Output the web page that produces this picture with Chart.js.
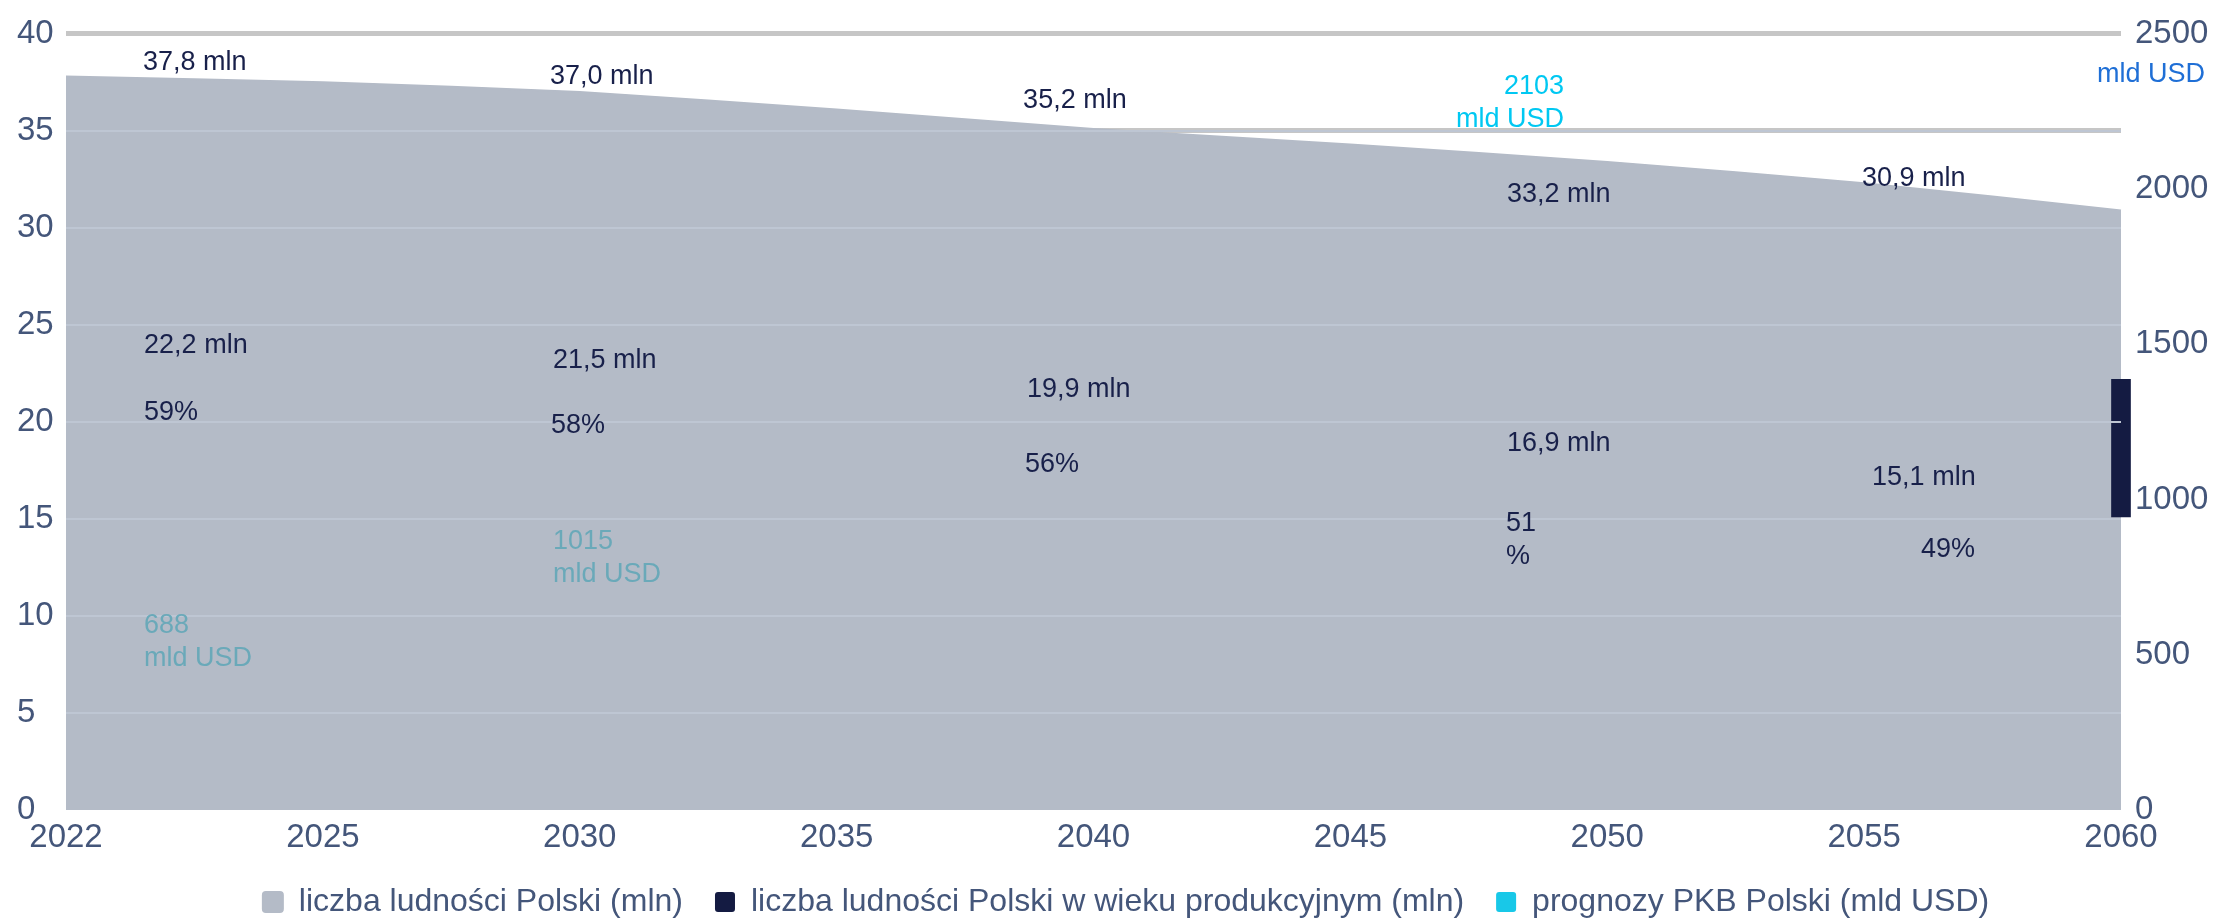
<!DOCTYPE html>
<html><head><meta charset="utf-8">
<script src="https://cdn.jsdelivr.net/npm/chart.js@4/dist/chart.umd.min.js"></script>
<style>html,body{margin:0;padding:0;background:#fff}#wrap{width:2213px;height:921px;position:relative}</style>
</head><body><div id="wrap"><canvas id="c"></canvas></div>
<script>
// ---- data ----
const years = ['2022','2025','2030','2035','2040','2045','2050','2055','2060'];
const population = [37.8, 37.5, 37.0, 36.1, 35.1, 34.3, 33.4, 32.3, 30.9];
const milestoneYears = ['2022','2030','2040','2050','2060'];
const populationMilestones = [37.8, 37.0, 35.2, 33.2, 30.9];
const workingAge = [22.2, 21.5, 19.9, 16.9, 15.1];
const workingShare = [59, 58, 56, 51, 49];
const gdpYears = ['2022','2030','2050'];
const gdp = [688, 1015, 2103];
const leftTicks = [0, 5, 10, 15, 20, 25, 30, 35, 40];
const rightTicks = [0, 500, 1000, 1500, 2000, 2500];
const seriesNames = ['liczba ludności Polski (mln)', 'liczba ludności Polski w wieku produkcyjnym (mln)', 'prognozy PKB Polski (mld USD)'];
const gdpUnit = 'mld USD';

// ---- label anchors (x = category index, y = left-axis value) ----
const popPos = [[0.30,38.51],[1.884,37.80],[3.726,36.57],[5.610,31.70],[6.992,32.52]];
const workPos = [[0.304,23.92],[1.896,23.15],[3.741,21.66],[5.610,18.90],[7.031,17.11]];
const sharePos = [[0.304,20.49],[1.888,19.82],[3.733,17.82],[5.606,14.75],[7.221,13.42]];
const shareBreak = [false,false,false,true,false];
const gdpPos = [[0.304,9.53,'left','#6aa9b9'],[1.896,13.83,'left','#6aa9b9'],[5.832,37.29,'right','#00c8f2']];

const FONT = '"Liberation Sans", Arial, sans-serif';
const TICK = '#44567a';
const NAVY = '#18204a';
const fmt = v => v.toFixed(1).replace('.', ',') + ' mln';

const annot = {
  id: 'annot',
  beforeDraw(chart) {
    const lg = chart.legend;
    if (lg && !lg._shifted) { lg.left += 11; lg.right += 11; lg._shifted = true; }
  },
  afterDraw(chart) {
    const {ctx, scales: {x, y, y1}} = chart;
    ctx.save();
    ctx.font = '27px ' + FONT;
    ctx.textBaseline = 'middle';
    const LH = 33;
    const put = (lines, pos, color, align) => {
      const px = x.getPixelForValue(pos[0]);
      const py = y.getPixelForValue(pos[1]);
      ctx.fillStyle = color; ctx.textAlign = align || 'left';
      lines.forEach((t, k) => ctx.fillText(t, px, py + k * LH));
    };
    populationMilestones.forEach((v, i) => put([fmt(v)], popPos[i], NAVY));
    workingAge.forEach((v, i) => put([fmt(v)], workPos[i], NAVY));
    workingShare.forEach((v, i) => put(shareBreak[i] ? [String(v), '%'] : [v + '%'], sharePos[i], NAVY));
    gdp.forEach((v, i) => put([String(v), gdpUnit], gdpPos[i], gdpPos[i][3], gdpPos[i][2]));
    ctx.fillStyle = '#1f6fd6'; ctx.textAlign = 'right';
    ctx.fillText(gdpUnit, y1.right - 8, y.getPixelForValue(37.9));
    ctx.restore();
  }
};

const last = years.length - 1;
new Chart(document.getElementById('c'), {
  type: 'line',
  data: {
    labels: years,
    datasets: [
      { label: seriesNames[0], data: population, yAxisID: 'y', fill: 'origin',
        backgroundColor: '#b4bbc7', borderColor: '#b4bbc7', borderWidth: 2,
        pointRadius: 0, tension: 0.2 },
      { type: 'bar', label: seriesNames[1], yAxisID: 'y', order: -1, clip: false,
        data: years.map((_, i) => i === last ? [Math.min(...workingAge), Math.max(...workingAge)] : null),
        backgroundColor: '#141b42', barThickness: 19 },
      { label: seriesNames[2], yAxisID: 'y1', showLine: false, pointRadius: 0,
        data: years.map(yr => { const k = gdpYears.indexOf(yr); return k < 0 ? null : gdp[k]; }),
        backgroundColor: '#18c8e8', borderColor: '#18c8e8', borderWidth: 0 }
    ]
  },
  options: {
    responsive: true, maintainAspectRatio: false, animation: false,
    layout: { padding: { top: 29, left: 17, right: 0, bottom: -7 } },
    plugins: {
      tooltip: { enabled: false },
      legend: { position: 'bottom',
        labels: { font: { size: 32, family: FONT }, color: TICK, boxWidth: 20, boxHeight: 20,
          padding: 32, useBorderRadius: true, borderRadius: 3,
          sort: (a, b) => a.datasetIndex - b.datasetIndex } }
    },
    scales: {
      x: { offset: false, grid: { display: false, drawTicks: false }, border: { display: false },
        ticks: { font: { size: 33, family: FONT }, color: TICK, padding: 8, maxRotation: 0, autoSkip: false },
        afterFit: s => { s.height = 44; } },
      y: { position: 'left', min: 0, max: 40,
        afterBuildTicks: s => { s.ticks = leftTicks.map(v => ({ value: v })); },
        grid: { color: c => c.tick.value === 0 ? 'rgba(0,0,0,0)' : '#c6c6c6', lineWidth: 5, drawTicks: false },
        border: { display: false },
        ticks: { font: { size: 33, family: FONT }, color: TICK, crossAlign: 'far', padding: 0 },
        afterFit: s => { s.width = 49; } },
      yg: { position: 'left', min: 0, max: 40,
        afterBuildTicks: s => { s.ticks = leftTicks.map(v => ({ value: v })); },
        grid: { z: 1, color: c => (c.tick.value === 0 || c.tick.value === 40) ? 'rgba(0,0,0,0)' : '#bec6d3', lineWidth: 2, drawTicks: false },
        border: { display: false }, ticks: { display: false },
        afterFit: s => { s.width = 0; } },
      y1: { position: 'right', min: 0, max: 2500,
        afterBuildTicks: s => { s.ticks = rightTicks.map(v => ({ value: v })); },
        grid: { display: false, drawTicks: false }, border: { display: false },
        ticks: { font: { size: 33, family: FONT }, color: TICK, padding: 14, callback: v => String(v) },
        afterFit: s => { s.width = 92; } }
    }
  },
  plugins: [annot]
});
</script></body></html>
